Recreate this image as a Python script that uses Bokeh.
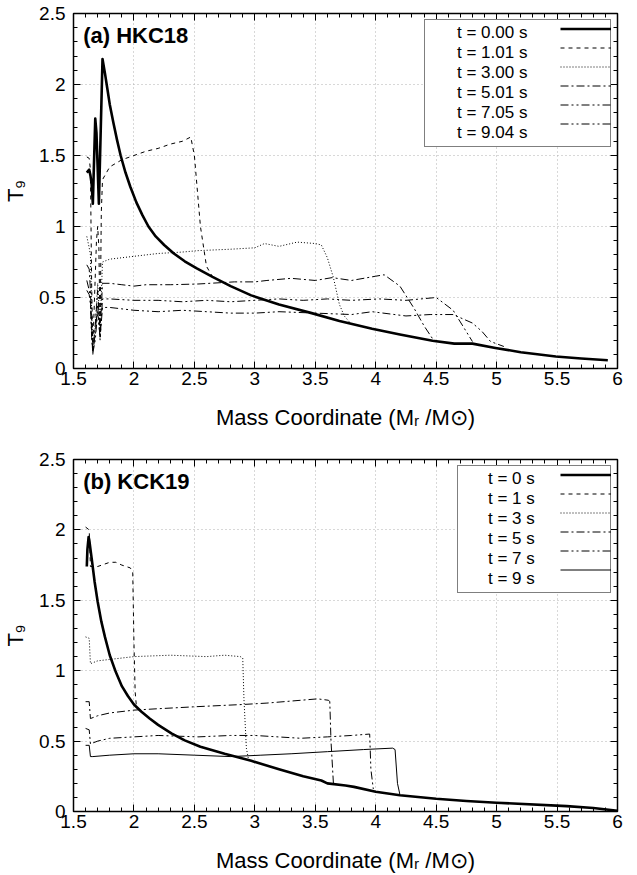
from bokeh.plotting import figure
from bokeh.layouts import column
from bokeh.models import (FixedTicker, LinearAxis, Label, CustomJSTickFormatter, Range1d,
                          Legend, LegendItem)
from bokeh.embed import file_html
from bokeh.resources import INLINE
import numpy as np

# ---------------- data: panel (a) HKC18 ----------------
a_labels = ["t = 0.00 s", "t = 1.01 s", "t = 3.00 s", "t = 5.01 s", "t = 7.05 s", "t = 9.04 s"]

a0_x = [1.61, 1.63, 1.64, 1.65, 1.66, 1.68, 1.69, 1.71, 1.74, 1.76, 1.78, 1.80, 1.83, 1.86, 1.89, 1.93, 1.97,
        2.02, 2.07, 2.12, 2.18, 2.25, 2.33, 2.42, 2.52, 2.65, 2.80, 2.97, 3.20, 3.47, 3.70, 3.97, 4.20, 4.47,
        4.65, 4.80, 4.99, 5.20, 5.49, 5.70, 5.92]
a0_y = [1.38, 1.40, 1.36, 1.30, 1.16, 1.76, 1.66, 1.16, 2.18, 2.08, 1.97, 1.86, 1.73, 1.61, 1.50, 1.38, 1.28,
        1.17, 1.08, 1.00, 0.93, 0.87, 0.81, 0.755, 0.705, 0.645, 0.58, 0.515, 0.45, 0.39, 0.335, 0.28, 0.24,
        0.195, 0.175, 0.175, 0.145, 0.115, 0.085, 0.07, 0.058]

a1_x = [1.61, 1.63, 1.64, 1.65, 1.66, 1.67, 1.69, 1.70, 1.71, 1.72, 1.73, 1.74, 1.80, 1.90, 2.00, 2.10, 2.20,
        2.30, 2.40, 2.47, 2.50, 2.55, 2.60, 2.65]
a1_y = [1.49, 1.48, 1.40, 0.60, 0.14, 0.40, 0.90, 1.00, 0.85, 0.25, 1.10, 1.33, 1.42, 1.47, 1.50, 1.53, 1.55,
        1.58, 1.60, 1.63, 1.50, 1.00, 0.72, 0.645]

a3_x = [1.61, 1.63, 1.64, 1.65, 1.66, 1.68, 1.70, 1.72, 1.74, 1.80, 2.00, 2.20, 2.40, 2.53, 2.80, 3.00, 3.08,
        3.20, 3.35, 3.50, 3.55, 3.60, 3.65, 3.70, 3.74, 3.78]
a3_y = [0.93, 0.85, 0.80, 0.40, 0.15, 0.30, 0.60, 0.30, 0.75, 0.77, 0.79, 0.81, 0.82, 0.83, 0.84, 0.85, 0.88,
        0.86, 0.89, 0.88, 0.87, 0.78, 0.64, 0.45, 0.37, 0.33]

a5_x = [1.61, 1.63, 1.64, 1.65, 1.66, 1.68, 1.70, 1.72, 1.74, 1.80, 1.90, 2.00, 2.10, 2.30, 2.53, 2.83, 3.00,
        3.10, 3.30, 3.50, 3.64, 3.80, 4.00, 4.07, 4.20, 4.32, 4.40, 4.47]
a5_y = [0.73, 0.70, 0.55, 0.30, 0.12, 0.30, 0.55, 0.25, 0.60, 0.60, 0.59, 0.58, 0.59, 0.59, 0.595, 0.61, 0.61,
        0.62, 0.635, 0.62, 0.64, 0.62, 0.65, 0.66, 0.58, 0.42, 0.30, 0.21]

a7_x = [1.61, 1.63, 1.64, 1.65, 1.66, 1.68, 1.70, 1.72, 1.74, 1.80, 2.00, 2.20, 2.40, 2.60, 2.80, 3.00, 3.20,
        3.40, 3.60, 3.80, 4.03, 4.25, 4.50, 4.64, 4.72, 4.80]
a7_y = [0.62, 0.55, 0.50, 0.25, 0.10, 0.25, 0.45, 0.20, 0.49, 0.49, 0.48, 0.48, 0.47, 0.48, 0.47, 0.48, 0.49,
        0.48, 0.49, 0.48, 0.49, 0.48, 0.50, 0.41, 0.30, 0.19]

a9_x = [1.61, 1.63, 1.64, 1.65, 1.66, 1.68, 1.70, 1.72, 1.74, 1.80, 1.90, 2.00, 2.20, 2.40, 2.60, 2.80, 3.00,
        3.20, 3.50, 3.80, 3.97, 4.25, 4.45, 4.64, 4.80, 4.88, 4.95, 5.06]
a9_y = [0.55, 0.52, 0.45, 0.22, 0.11, 0.20, 0.40, 0.22, 0.43, 0.43, 0.42, 0.41, 0.40, 0.41, 0.40, 0.39, 0.39,
        0.40, 0.39, 0.38, 0.40, 0.37, 0.38, 0.38, 0.32, 0.26, 0.19, 0.155]

# ---------------- data: panel (b) KCK19 ----------------
b_labels = ["t = 0 s", "t = 1 s", "t = 3 s", "t = 5 s", "t = 7 s", "t = 9 s"]

b0_x = [1.61, 1.615, 1.625, 1.63, 1.65, 1.675, 1.70, 1.73, 1.76, 1.80, 1.85, 1.90, 1.95, 2.00, 2.06, 2.13,
        2.20, 2.31, 2.42, 2.55, 2.75, 2.97, 3.20, 3.40, 3.55, 3.60, 3.75, 3.82, 4.00, 4.20, 4.50, 4.75, 5.00,
        5.58, 5.80, 6.00]
b0_y = [1.74, 1.86, 1.95, 1.93, 1.80, 1.63, 1.49, 1.35, 1.24, 1.11, 0.99, 0.89, 0.82, 0.76, 0.71, 0.66,
        0.615, 0.555, 0.505, 0.46, 0.41, 0.36, 0.30, 0.25, 0.22, 0.20, 0.185, 0.175, 0.14, 0.115, 0.09, 0.075,
        0.062, 0.038, 0.025, 0.005]

b1_x = [1.60, 1.63, 1.64, 1.70, 1.80, 1.85, 1.90, 1.97, 1.99, 2.00, 2.01, 2.02]
b1_y = [2.02, 2.00, 1.74, 1.74, 1.77, 1.77, 1.75, 1.73, 1.70, 1.20, 0.85, 0.75]

b3_x = [1.60, 1.63, 1.64, 1.70, 2.00, 2.30, 2.60, 2.75, 2.88, 2.90, 2.91, 2.93, 2.95]
b3_y = [1.24, 1.23, 1.05, 1.07, 1.10, 1.11, 1.10, 1.11, 1.10, 1.09, 0.80, 0.45, 0.36]

b5_x = [1.60, 1.63, 1.64, 1.70, 1.80, 2.00, 2.20, 2.53, 2.90, 3.10, 3.38, 3.52, 3.61, 3.62, 3.63, 3.65]
b5_y = [0.78, 0.78, 0.66, 0.68, 0.70, 0.72, 0.73, 0.745, 0.76, 0.77, 0.79, 0.80, 0.79, 0.78, 0.50, 0.20]

b7_x = [1.60, 1.63, 1.64, 1.70, 1.80, 2.00, 2.20, 2.53, 2.80, 3.00, 3.38, 3.60, 3.80, 3.95, 3.96, 3.98]
b7_y = [0.59, 0.58, 0.48, 0.50, 0.52, 0.53, 0.54, 0.53, 0.54, 0.54, 0.52, 0.53, 0.54, 0.55, 0.30, 0.16]

b9_x = [1.60, 1.63, 1.64, 1.66, 1.80, 2.00, 2.20, 2.50, 2.80, 3.05, 3.30, 3.60, 3.90, 4.14, 4.16, 4.18, 4.20]
b9_y = [0.47, 0.47, 0.39, 0.39, 0.40, 0.41, 0.41, 0.40, 0.39, 0.40, 0.41, 0.425, 0.44, 0.45, 0.44, 0.20, 0.12]

x_ticks = [1.5, 2, 2.5, 3, 3.5, 4, 4.5, 5, 5.5, 6]
y_ticks = [0, 0.5, 1, 1.5, 2, 2.5]

FONT = "Liberation Sans"
fmt = CustomJSTickFormatter(code="return (Math.round(tick*100)/100).toString();")
blank_fmt = CustomJSTickFormatter(code="return '';")
x_minor = [round(v, 2) for v in np.arange(1.5, 6.001, 0.1)]
y_minor = [round(v, 2) for v in np.arange(0, 2.501, 0.1)]

styles = [
    dict(line_width=2.6, line_dash="solid"),
    dict(line_width=1.0, line_dash="4 4"),
    dict(line_width=1.0, line_dash="1 2"),
    dict(line_width=1.0, line_dash="8 3 2 3"),
    dict(line_width=1.0, line_dash="8 3 2 3 2 3"),
]


def make_panel(title, labels, series, last_solid, height, top, bottom, leg_glyph_pad, leg_label_w):
    p = figure(width=637, height=height, output_backend="svg", toolbar_location=None,
               x_range=Range1d(1.5, 6), y_range=Range1d(0, 2.5),
               min_border_left=72, min_border_right=20, min_border_top=top, min_border_bottom=bottom)
    p.outline_line_color = "black"
    p.outline_line_width = 1.5
    p.background_fill_color = "white"
    p.border_fill_color = "white"

    renderers = []
    dummies = []
    for i, (xs, ys) in enumerate(series):
        if i == 5:
            st = dict(line_width=1.0, line_dash="solid") if last_solid else styles[4]
        else:
            st = styles[i]
        renderers.append(p.line(xs, ys, line_color="black", line_join="round", **st))
        dummies.append(p.line([], [], line_color="black", line_alpha=0, line_width=1))

    xt = FixedTicker(ticks=x_ticks, minor_ticks=x_minor)
    yt = FixedTicker(ticks=y_ticks, minor_ticks=y_minor)

    for ax, t in ((p.xaxis[0], xt), (p.yaxis[0], yt)):
        ax.ticker = t
        ax.formatter = fmt
        ax.axis_line_color = None
        ax.major_tick_in = 7
        ax.major_tick_out = 0
        ax.minor_tick_in = 4
        ax.minor_tick_out = 0
        ax.major_tick_line_color = "black"
        ax.minor_tick_line_color = "black"
        ax.major_label_text_font = FONT
        ax.major_label_text_font_size = "19px"
        ax.major_label_text_color = "black"
        ax.axis_label_text_font = FONT
        ax.axis_label_text_font_size = "22px"
        ax.axis_label_text_font_style = "normal"
        ax.axis_label_text_color = "black"
    p.xaxis[0].axis_label = "Mass Coordinate (Mᵣ /M⊙)"
    p.yaxis[0].axis_label = "T₉"
    p.xaxis[0].major_label_standoff = 3
    p.yaxis[0].major_label_standoff = 8
    p.xaxis[0].axis_label_standoff = 17
    p.yaxis[0].axis_label_standoff = 8

    # mirrored ticks on top and right, without labels
    for loc, t in (("above", xt), ("right", yt)):
        ax = LinearAxis(ticker=t, formatter=blank_fmt)
        ax.axis_line_color = None
        ax.major_tick_in = 7
        ax.major_tick_out = 0
        ax.minor_tick_in = 4
        ax.minor_tick_out = 0
        ax.major_tick_line_color = "black"
        ax.minor_tick_line_color = "black"
        ax.major_label_standoff = 0
        p.add_layout(ax, loc)

    for g in (p.xgrid[0], p.ygrid[0]):
        g.grid_line_color = "#b0b0b0"
        g.grid_line_dash = "1 3"
        g.grid_line_width = 1
    p.xgrid[0].ticker = xt
    p.ygrid[0].ticker = yt

    # legend: text first, then the line sample (two stacked legends)
    common = dict(location="top_right", margin=6, padding=3, spacing=0,
                  label_text_font=FONT, label_text_font_size="17px", label_text_color="black",
                  label_height=19, glyph_height=19)
    leg_text = Legend(items=[LegendItem(label=lab, renderers=[d]) for lab, d in zip(labels, dummies)],
                      glyph_width=leg_glyph_pad, label_standoff=5, label_width=leg_label_w,
                      border_line_color="black", border_line_width=1,
                      background_fill_color="white", background_fill_alpha=1, **common)
    leg_line = Legend(items=[LegendItem(label=" ", renderers=[r]) for r in renderers],
                      glyph_width=51, label_standoff=0, label_width=0,
                      border_line_color=None, background_fill_alpha=0, **common)
    p.add_layout(leg_text)
    p.add_layout(leg_line)

    p.add_layout(Label(x=1.58, y=2.43, text=title, text_font=FONT, text_font_size="22px",
                       text_font_style="bold", text_baseline="top", text_color="black"))
    return p


pa = make_panel("(a) HKC18", a_labels,
                [(a0_x, a0_y), (a1_x, a1_y), (a3_x, a3_y), (a5_x, a5_y), (a7_x, a7_y), (a9_x, a9_y)],
                False, 437, 13, 69, 24, 150)
pb = make_panel("(b) KCK19", b_labels,
                [(b0_x, b0_y), (b1_x, b1_y), (b3_x, b3_y), (b5_x, b5_y), (b7_x, b7_y), (b9_x, b9_y)],
                True, 438, 22, 61, 22, 119)

layout = column(pa, pb, spacing=0)
open("out.html", "w").write(file_html(layout, INLINE))
